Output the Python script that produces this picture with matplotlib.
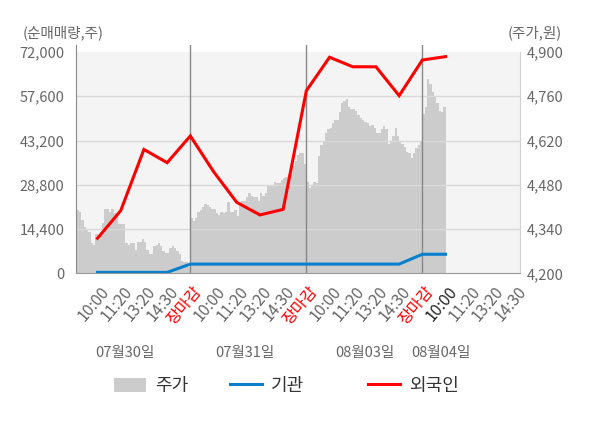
import numpy as np
import matplotlib
matplotlib.use("Agg")
import matplotlib.pyplot as plt
from matplotlib.patches import Patch
from matplotlib.lines import Line2D
from matplotlib.transforms import ScaledTranslation

plt.rcParams["font.family"] = ["Noto Sans CJK KR", "DejaVu Sans"]

# -----------------------------
# 데이터
# -----------------------------
dates = ["07월30일", "07월31일", "08월03일", "08월04일"]
time_labels = ["10:00", "11:20", "13:20", "14:30", "장마감"]

# 주가 (원), 하루 50개 구간
price_0730 = [4355, 4400, 4395, 4370, 4345, 4340, 4330, 4295, 4290, 4325,
              4305, 4330, 4360, 4405, 4405, 4395, 4405, 4390, 4390, 4355,
              4355, 4355, 4295, 4290, 4295, 4295, 4275, 4300, 4300, 4310,
              4300, 4275, 4260, 4260, 4285, 4290, 4295, 4285, 4270, 4265,
              4265, 4280, 4285, 4280, 4270, 4260, 4240, 4235, 4235, 4220]
price_0731 = [4375, 4365, 4375, 4395, 4400, 4410, 4420, 4415, 4410, 4405,
              4405, 4390, 4385, 4395, 4390, 4395, 4425, 4395, 4395, 4400,
              4380, 4420, 4430, 4430, 4440, 4455, 4445, 4440, 4440, 4430,
              4455, 4445, 4455, 4475, 4480, 4475, 4490, 4485, 4485, 4495,
              4500, 4505, 4515, 4530, 4540, 4555, 4575, 4580, 4580, 4545]
price_0803 = [4490, 4470, 4475, 4490, 4485, 4570, 4605, 4620, 4645, 4655,
              4660, 4675, 4685, 4685, 4710, 4740, 4745, 4750, 4725, 4720,
              4720, 4715, 4700, 4690, 4685, 4680, 4675, 4665, 4670, 4660,
              4645, 4645, 4655, 4665, 4655, 4610, 4620, 4635, 4660, 4635,
              4620, 4610, 4600, 4585, 4580, 4565, 4580, 4595, 4605, 4615]
price_0804 = [4705, 4725, 4815, 4800, 4775, 4760, 4740, 4715, 4710, 4725]

# 순매매량 (주), 10:00 / 11:20 / 13:20 / 14:30 / 장마감 시점
foreign = [11400, 20400, 40300, 36000, 44700,
           33100, 23100, 19000, 20800, 59400,
           70300, 67200, 67200, 57800, 69400,
           70500]
institution = [300, 300, 300, 300, 3000,
               3000, 3000, 3000, 3000, 3000,
               3000, 3000, 3000, 3000, 6200,
               6200]

# -----------------------------
# 스타일
# -----------------------------
C_TEXT = "#666666"
C_GRAY = "#cccccc"
C_BLUE = "#0a7fcc"
C_RED = "#ff0000"
SAMPLES_PER_SLOT = 10

fig = plt.figure(figsize=(6, 4.28), dpi=100)
ax = fig.add_axes([0.1262, 0.3614, 0.7405, 0.5334])
ax2 = ax.twinx()
ax.set_zorder(ax2.get_zorder() + 1)
ax.patch.set_visible(False)

# 주가 영역 (오른쪽 축)
price = price_0730 + price_0731 + price_0803 + price_0804
px = np.arange(len(price) + 1) / SAMPLES_PER_SLOT
py = np.array(price + [price[-1]])
ax2.axhspan(4200, 4900, color="#f4f4f4", lw=0, zorder=0)
ax2.fill_between(px, py, 4200, step="post", color=C_GRAY, lw=0, zorder=1)
ax2.set_ylim(4200, 4200 + 700 * 228.3 / 221.3)
ax2.set_yticks(np.arange(4200, 4901, 140))
ax2.set_yticklabels([f"{v:,}" for v in range(4200, 4901, 140)])
ax2.tick_params(axis="y", length=0, pad=5, labelsize=10.5, labelcolor=C_TEXT)
for s in ["left", "top", "bottom"]:
    ax2.spines[s].set_visible(False)
ax2.spines["right"].set_color("#d0d0d0")
ax2.spines["right"].set_bounds(4200, 4900)

# 순매매량 선 (왼쪽 축)
xi = np.arange(1, len(foreign) + 1)
ax.plot(xi, institution, color=C_BLUE, lw=2.2, solid_joinstyle="miter", zorder=4)
ax.plot(xi, foreign, color=C_RED, lw=2.2, solid_joinstyle="miter", zorder=5)

for d in range(1, len(dates)):
    ax.axvline(d * 5, color="#888888", lw=1, zorder=3)

ax.set_xlim(0.06, 19.21)
ax.set_ylim(0, 72000 * 228.3 / 221.3)
ax.set_yticks(np.arange(0, 72001, 14400))
ax.set_yticklabels([f"{v:,}" for v in range(0, 72001, 14400)])
ax.tick_params(axis="y", length=0, pad=8, labelsize=10.5, labelcolor=C_TEXT)
ax.yaxis.grid(True, color="#d9d9d9", lw=1, zorder=2)
gl = ax.get_ygridlines()
gl[0].set_visible(False)
gl[-1].set_visible(False)

# x축 눈금
xt_labels = time_labels * 3 + time_labels[:4]
xt_pos = np.arange(1, len(xt_labels) + 1)
ax.set_xticks(xt_pos)
ax.set_xticklabels(xt_labels, rotation=50, ha="right", va="top",
                   rotation_mode="anchor", fontsize=11.5)
ax.tick_params(axis="x", length=0, pad=7)
ax.set_xticks([5, 10, 15], minor=True)
ax.tick_params(axis="x", which="minor", length=4, color="#888888")
off = ScaledTranslation(2 / 100, 0, fig.dpi_scale_trans)
for i, lbl in enumerate(ax.get_xticklabels()):
    lbl.set_transform(lbl.get_transform() + off)
    if xt_labels[i] == "장마감":
        lbl.set_color(C_RED)
    elif i == 15:
        lbl.set_color("#222222")
    else:
        lbl.set_color(C_TEXT)

ax.spines["top"].set_visible(False)
ax.spines["right"].set_visible(False)
ax.spines["left"].set_color("#888888")
ax.spines["bottom"].set_color("#999999")

# 날짜 라벨
for xd, txt in zip([2.16, 7.36, 12.53, 15.8], dates):
    ax.annotate(txt, xy=(xd, 0.175), xycoords=("data", "figure fraction"),
                ha="center", va="center", fontsize=10.5, color=C_TEXT)

# 축 제목
fig.text(0.038, 0.923, "(순매매량,주)", ha="left", va="center", fontsize=10.5, color=C_TEXT)
fig.text(0.936, 0.923, "(주가,원)", ha="right", va="center", fontsize=10.5, color=C_TEXT)

# 범례
items = [
    (Patch(facecolor=C_GRAY, edgecolor="none"), "주가", 114),
    (Line2D([], [], color=C_BLUE, lw=2.2), "기관", 230),
    (Line2D([], [], color=C_RED, lw=2.2), "외국인", 368),
]
for h, lab, xpix in items:
    lg = fig.legend([h], [lab], loc="center left", bbox_to_anchor=(xpix / 600, 0.098),
                    frameon=False, fontsize=13, handlelength=1.75, handleheight=0.85,
                    handletextpad=0.5, borderpad=0, borderaxespad=0)
    for t in lg.get_texts():
        t.set_color("#333333")

fig.savefig("out.png", dpi=100)
